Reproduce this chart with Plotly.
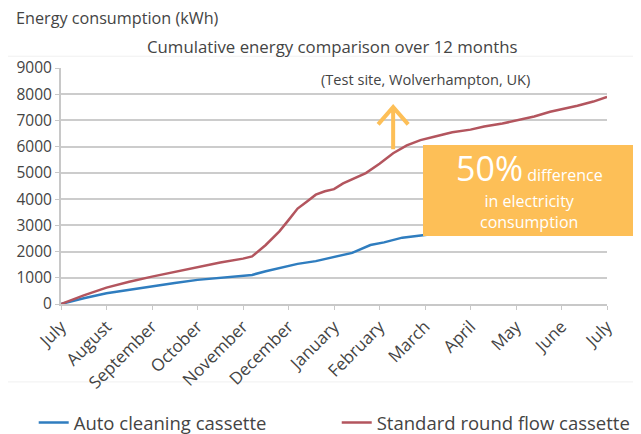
import plotly.graph_objects as go

months = ["July", "August", "September", "October", "November", "December",
          "January", "February", "March", "April", "May", "June", "July"]

# Standard round flow cassette (month position, cumulative kWh)
std_t = [0, 0.5, 1, 1.5, 2, 2.5, 3, 3.5, 4, 4.2, 4.5, 4.8, 5.0, 5.2, 5.4, 5.6, 5.8,
         6.0, 6.2, 6.4, 6.7, 7.0, 7.3, 7.6, 7.9, 8.2, 8.6, 9.0, 9.3, 9.7, 10.0,
         10.4, 10.75, 11.0, 11.35, 11.7, 12.0]
std_v = [0, 330, 625, 850, 1045, 1230, 1400, 1580, 1730, 1815, 2250, 2770, 3200,
         3640, 3900, 4170, 4300, 4380, 4600, 4750, 4990, 5350, 5750, 6050, 6250,
         6380, 6550, 6650, 6770, 6880, 7000, 7150, 7330, 7420, 7560, 7720, 7900]

# Auto cleaning cassette
auto_t = [0, 0.5, 1, 1.5, 2, 2.5, 3, 3.5, 4, 4.2, 4.5, 4.8, 5.2, 5.6, 6.0, 6.4,
          6.8, 7.1, 7.5, 8.0, 8.4, 9.0, 10.0, 11.0, 12.0]
auto_v = [0, 220, 410, 540, 690, 800, 920, 1000, 1070, 1110, 1250, 1370, 1530,
          1635, 1780, 1950, 2250, 2350, 2530, 2650, 2720, 3050, 3400, 3700, 3950]

y_ticks = [0, 1000, 2000, 3000, 4000, 5000, 6000, 7000, 8000, 9000]

FONT = "Open Sans"
TXT = "#444444"
BLUE = "#2f7dbf"
RED = "#b3555e"
ORANGE = "#fdbf57"

fig = go.Figure()
fig.add_trace(go.Scatter(x=auto_t, y=auto_v, mode="lines", name="Auto cleaning cassette",
                         line=dict(color=BLUE, width=2.5), legend="legend"))
fig.add_trace(go.Scatter(x=std_t, y=std_v, mode="lines", name="Standard round flow cassette",
                         line=dict(color=RED, width=2.5), legend="legend2"))

leg_common = dict(orientation="h", y=-0.504, xanchor="left", yanchor="middle",
                  font=dict(size=18.5, color=TXT), bgcolor="rgba(0,0,0,0)")

fig.update_layout(
    width=641, height=434,
    margin=dict(l=53, r=42, t=60, b=138, autoexpand=False),
    paper_bgcolor="white", plot_bgcolor="white",
    font=dict(family=FONT, size=14, color=TXT),
    showlegend=True,
    legend=dict(x=-0.05, **leg_common),
    legend2=dict(x=0.505, **leg_common),
    xaxis=dict(range=[0, 12], tickvals=list(range(13)), ticktext=months,
               tickangle=-45, showgrid=False, showline=True, linecolor="#c8c8c8",
               linewidth=2, ticks="outside", ticklen=4, tickcolor="#c8c8c8",
               tickfont=dict(size=17, color=TXT), zeroline=False, fixedrange=True,
               automargin=False),
    yaxis=dict(range=[0, 9000], tickvals=y_ticks, showgrid=True, gridcolor="#cccccc",
               gridwidth=2, showline=True, linecolor="#c8c8c8", linewidth=2,
               ticks="outside", ticklen=4, tickcolor="#c8c8c8", zeroline=False,
               tickfont=dict(size=15.5, color=TXT), fixedrange=True, automargin=False),
)

shapes = []
# faint frame around chart area
shapes.append(dict(type="rect", xref="paper", yref="paper", x0=-0.103, x1=1.05,
                   y0=-0.33, y1=1.05, line=dict(color="#f0f0f0", width=1),
                   fillcolor="rgba(0,0,0,0)", layer="below"))
# orange box
shapes.append(dict(type="rect", xref="paper", yref="paper", x0=0.663, x1=1.055,
                   y0=0.288, y1=0.674, line=dict(width=0), fillcolor=ORANGE,
                   layer="above"))
# arrow
ax, ab, at, aw, ay = 7.3, 5900, 7510, 0.33, 6850
shapes.append(dict(type="path", xref="x", yref="y",
                   path=f"M {ax},{ab} L {ax},{at} M {ax-aw},{ay} L {ax},{at} L {ax+aw},{ay}",
                   line=dict(color=ORANGE, width=4), layer="above"))
fig.update_layout(shapes=shapes)

fig.add_annotation(xref="paper", yref="paper", x=-0.086, y=1.212, xanchor="left",
                   yanchor="middle", showarrow=False, text="Energy consumption (kWh)",
                   font=dict(size=16.2, color=TXT))
fig.add_annotation(xref="paper", yref="paper", x=0.496, y=1.089, xanchor="center",
                   yanchor="middle", showarrow=False,
                   text="Cumulative energy comparison over 12 months",
                   font=dict(size=16.8, color=TXT))
fig.add_annotation(xref="paper", yref="paper", x=0.668, y=0.953, xanchor="center",
                   yanchor="middle", showarrow=False,
                   text="(Test site, Wolverhampton, UK)",
                   font=dict(size=14.6, color=TXT))
fig.add_annotation(xref="paper", yref="paper", x=0.858, y=0.575, xanchor="center",
                   yanchor="middle", showarrow=False,
                   text="<span style='font-size:34px'>50%</span> difference",
                   font=dict(size=16, color="white"))
fig.add_annotation(xref="paper", yref="paper", x=0.858, y=0.39, xanchor="center",
                   yanchor="middle", showarrow=False,
                   text="in electricity<br>consumption",
                   font=dict(size=16, color="white"))

fig.write_html("out.html")
